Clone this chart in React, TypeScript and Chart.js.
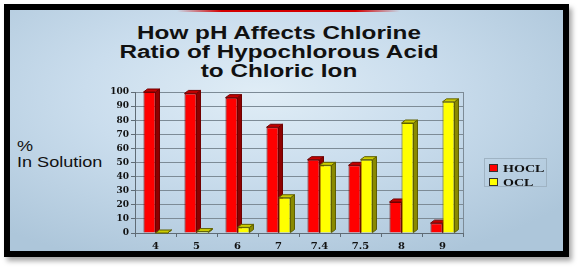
import React, { useEffect, useRef } from "react";
import { Chart, registerables } from "chart.js";

Chart.register(...registerables);

const CATEGORIES = ["4", "5", "6", "7", "7.4", "7.5", "8", "9"];
const HOCL = [100, 99, 96, 75, 52, 48, 22, 7];
const OCL = [0, 1, 4, 25, 48, 52, 78, 93];
const SERIES_NAMES = ["HOCL", "OCL"];
const TITLE_LINES = ["How pH Affects Chlorine", "Ratio of Hypochlorous Acid", "to Chloric Ion"];
const Y_LABEL_LINES = ["%", "In Solution"];

const FRONT = ["#ff0000", "#ffff00"];
const EDGE = ["#6e0000", "#5e5e00"];
const SIDE = ["#8e0000", "#8a8a00"];
const TOP = ["#c40000", "#cccc00"];
const DX = 4;
const DY = 3;

const depthPlugin = {
  id: "depth3d",
  beforeDatasetsDraw(chart: any) {
    const ctx = chart.ctx;
    const ca = chart.chartArea;
    ctx.save();
    ctx.strokeStyle = "#7d8b96";
    ctx.lineWidth = 1;
    ctx.beginPath();
    ctx.moveTo(Math.round(ca.right) + 0.5, ca.top);
    ctx.lineTo(Math.round(ca.right) + 0.5, ca.bottom);
    ctx.stroke();
    chart.data.datasets.forEach((_ds: any, i: number) => {
      const meta = chart.getDatasetMeta(i);
      meta.data.forEach((bar: any) => {
        const p = bar.getProps(["x", "y", "base", "width"], true);
        const l = p.x - p.width / 2;
        const r = p.x + p.width / 2;
        const t = p.y;
        const b = p.base;
        ctx.lineWidth = 1;
        ctx.strokeStyle = EDGE[i];
        // side face
        ctx.fillStyle = SIDE[i];
        ctx.beginPath();
        ctx.moveTo(r, t);
        ctx.lineTo(r + DX, t - DY);
        ctx.lineTo(r + DX, b - DY);
        ctx.lineTo(r, b);
        ctx.closePath();
        ctx.fill();
        ctx.stroke();
        // top face
        ctx.fillStyle = TOP[i];
        ctx.beginPath();
        ctx.moveTo(l, t);
        ctx.lineTo(l + DX, t - DY);
        ctx.lineTo(r + DX, t - DY);
        ctx.lineTo(r, t);
        ctx.closePath();
        ctx.fill();
        ctx.stroke();
      });
    });
    ctx.restore();
  },
};

export default function App() {
  const canvasRef = useRef<HTMLCanvasElement | null>(null);

  useEffect(() => {
    if (!canvasRef.current) return;
    const chart = new Chart(canvasRef.current, {
      type: "bar",
      data: {
        labels: CATEGORIES,
        datasets: [
          {
            label: SERIES_NAMES[0],
            data: HOCL,
            backgroundColor: FRONT[0],
            borderColor: EDGE[0],
            borderWidth: 1,
            categoryPercentage: 0.585,
            barPercentage: 1,
          },
          {
            label: SERIES_NAMES[1],
            data: OCL,
            backgroundColor: FRONT[1],
            borderColor: EDGE[1],
            borderWidth: 1,
            categoryPercentage: 0.585,
            barPercentage: 1,
          },
        ],
      },
      options: {
        responsive: false,
        animation: false,
        devicePixelRatio: 1,
        layout: { padding: { left: 105, right: 119, top: 92, bottom: 19 } },
        plugins: {
          legend: { display: false },
          tooltip: { enabled: false },
          title: { display: false },
        },
        scales: {
          x: {
            offset: true,
            grid: {
              display: true,
              drawOnChartArea: false,
              offset: true,
              tickLength: 4,
              color: "#5f6b75",
            },
            border: { display: true, color: "#5f6b75" },
            ticks: {
              color: "#111",
              padding: 3,
              font: { family: "'DejaVu Serif', serif", weight: "bold", size: 10 },
            },
            afterFit: (scale: any) => {
              scale.height = 20;
            },
          },
          y: {
            min: 0,
            max: 100,
            ticks: {
              stepSize: 10,
              color: "#111",
              padding: 2,
              font: { family: "'DejaVu Serif', serif", weight: "bold", size: 9 },
            },
            grid: {
              color: "#7d8b96",
              tickColor: "#5f6b75",
              tickLength: 4,
            },
            border: { display: true, color: "#5f6b75" },
            afterFit: (scale: any) => {
              scale.width = 30;
            },
          },
        },
      },
      plugins: [depthPlugin],
    });
    return () => chart.destroy();
  }, []);

  const titleBaselines = [39, 58, 77.5];
  const yLabelBaselines = [151, 167];

  return (
    <div style={{ position: "absolute", left: 0, top: 0, width: 582, height: 272, overflow: "hidden", background: "#fff" }}>
      <div
        style={{
          position: "absolute",
          left: 4,
          top: 4,
          width: 565,
          height: 253,
          boxSizing: "border-box",
          border: "6px solid #000",
          background:
            "radial-gradient(ellipse 70% 75% at 45% 35%, #e0edf6 0%, #cadded 45%, #adc6da 100%)",
          boxShadow: "3px 4px 5px rgba(0,0,0,0.35)",
        }}
      />
      <div
        style={{
          position: "absolute",
          left: 177,
          top: 10,
          width: 223,
          height: 2,
          background: "linear-gradient(to right, rgba(210,0,0,0), #d40000 20%, #d40000 80%, rgba(210,0,0,0))",
        }}
      />
      {TITLE_LINES.map((line, i) => (
        <div
          key={line}
          style={{
            position: "absolute",
            left: 279,
            top: titleBaselines[i] - 15.2,
            fontFamily: "'Liberation Sans', Arial, sans-serif",
            fontWeight: "bold",
            fontSize: 18,
            lineHeight: "18px",
            whiteSpace: "nowrap",
            color: "#111",
            transform: "translateX(-50%) scaleX(1.35)",
          }}
        >
          {line}
        </div>
      ))}
      {Y_LABEL_LINES.map((line, i) => (
        <div
          key={line}
          style={{
            position: "absolute",
            left: 17,
            top: yLabelBaselines[i] - 11.85,
            fontFamily: "'Liberation Sans', Arial, sans-serif",
            fontSize: 14,
            lineHeight: "14px",
            whiteSpace: "nowrap",
            color: "#111",
            transform: "scaleX(1.29)",
            transformOrigin: "left center",
          }}
        >
          {line}
        </div>
      ))}
      <canvas ref={canvasRef} width={582} height={272} style={{ position: "absolute", left: 0, top: 0, width: 582, height: 272 }} />
      <div
        style={{
          position: "absolute",
          left: 484,
          top: 158,
          width: 63,
          height: 29,
          boxSizing: "border-box",
          border: "1px solid #9fb3c3",
        }}
      >
        {SERIES_NAMES.map((name, i) => (
          <div key={name} style={{ position: "absolute", left: 4, top: 4 + i * 14, height: 12, width: 58 }}>
            <div
              style={{
                position: "absolute",
                left: 0,
                top: 1,
                width: 9,
                height: 8,
                boxSizing: "border-box",
                background: FRONT[i],
                border: "1px solid #333",
              }}
            />
            <div
              style={{
                position: "absolute",
                left: 14,
                top: -1,
                fontFamily: "'Liberation Serif', 'Times New Roman', serif",
                fontWeight: "bold",
                fontSize: 11,
                lineHeight: "12px",
                whiteSpace: "nowrap",
                color: "#111",
                transform: "scaleX(1.28)",
                transformOrigin: "left center",
              }}
            >
              {name}
            </div>
          </div>
        ))}
      </div>
    </div>
  );
}
